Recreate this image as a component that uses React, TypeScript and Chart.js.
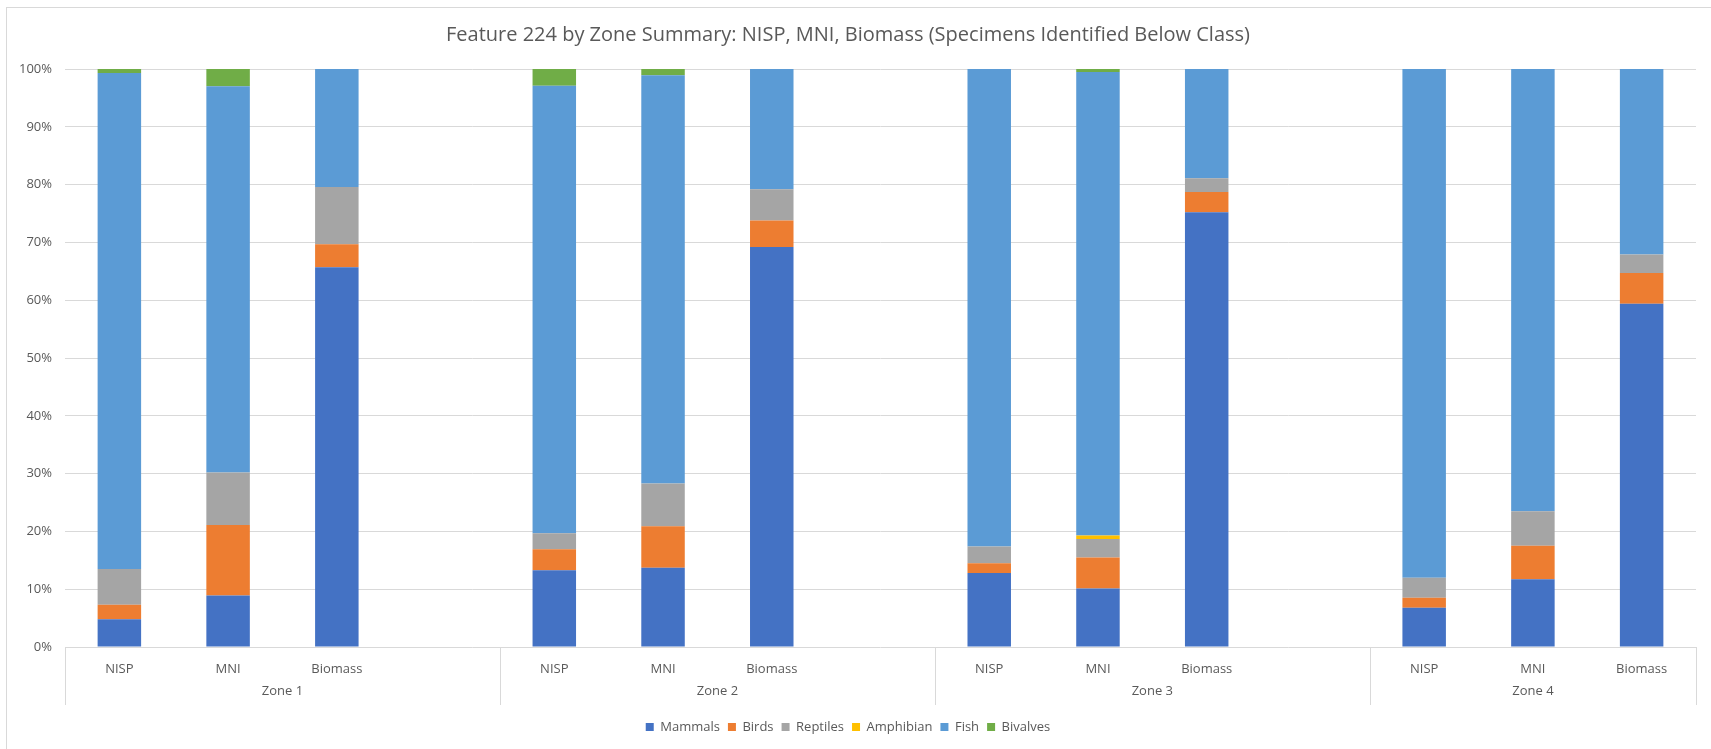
import React, { useEffect, useRef } from "react";
import { Chart, registerables } from "chart.js";

Chart.register(...registerables);

const categories = ["NISP", "MNI", "Biomass", "", "NISP", "MNI", "Biomass", "", "NISP", "MNI", "Biomass", "", "NISP", "MNI", "Biomass"];
const zones = ["Zone 1", "Zone 2", "Zone 3", "Zone 4"];
const zoneStarts = [0, 4, 8, 12];
const zoneSpans = [4, 4, 4, 3];

const mammals = [4.8, 8.9, 65.7, null, 13.3, 13.7, 69.2, null, 12.8, 10.1, 75.2, null, 6.8, 11.7, 59.4];
const birds = [2.5, 12.2, 4.0, null, 3.6, 7.2, 4.6, null, 1.7, 5.4, 3.5, null, 1.7, 5.8, 5.3];
const reptiles = [6.2, 9.1, 9.9, null, 2.8, 7.4, 5.4, null, 2.9, 3.2, 2.4, null, 3.5, 6.0, 3.2];
const amphibian = [0, 0, 0, null, 0, 0, 0, null, 0, 0.6, 0, null, 0, 0, 0];
const fish = [85.8, 66.8, 20.4, null, 77.4, 70.6, 20.8, null, 82.6, 80.2, 18.9, null, 88.0, 76.5, 32.1];
const bivalves = [0.7, 3.0, 0, null, 2.9, 1.1, 0, null, 0, 0.5, 0, null, 0, 0, 0];

const seriesNames = ["Mammals", "Birds", "Reptiles", "Amphibian", "Fish", "Bivalves"];
const seriesColors = ["#4472C4", "#ED7D31", "#A5A5A5", "#FFC000", "#5B9BD5", "#70AD47"];
const yTicks = [0, 10, 20, 30, 40, 50, 60, 70, 80, 90, 100];

const FONT = "'Open Sans', 'Noto Sans', sans-serif";
const TEXT = "#595959";
const GRID = "#D9D9D9";

const zonePlugin = {
  id: "zoneAxis",
  afterDraw(chart: any) {
    const x = chart.scales.x;
    const area = chart.chartArea;
    const ctx = chart.ctx;
    const slot = x.width / categories.length;
    ctx.save();
    ctx.strokeStyle = GRID;
    ctx.lineWidth = 1;
    const bounds = zoneStarts.concat([categories.length]);
    bounds.forEach((b) => {
      const px = Math.round(x.getPixelForValue(b) - slot / 2) + 0.5;
      ctx.beginPath();
      ctx.moveTo(px, area.bottom);
      ctx.lineTo(px, area.bottom + 58);
      ctx.stroke();
    });
    ctx.fillStyle = TEXT;
    ctx.font = "13px " + FONT;
    ctx.textAlign = "center";
    ctx.textBaseline = "middle";
    zones.forEach((z, i) => {
      const a = x.getPixelForValue(zoneStarts[i]) - slot / 2;
      const b = x.getPixelForValue(zoneStarts[i] + zoneSpans[i] - 1) + slot / 2;
      ctx.fillText(z, (a + b) / 2, area.bottom + 44);
    });
    ctx.restore();
  },
};

export default function App() {
  const ref = useRef<HTMLCanvasElement>(null);
  useEffect(() => {
    const raw = [mammals, birds, reptiles, amphibian, fish, bivalves];
    const totals = categories.map((_, i) => raw.reduce((s, arr) => s + (arr[i] ?? 0), 0));
    const datasets = raw.map((arr, k) => ({
      label: seriesNames[k],
      data: arr.map((v, i) => (v == null || totals[i] === 0 ? null : (v / totals[i]) * 100)),
      backgroundColor: seriesColors[k],
      borderWidth: 0,
      barPercentage: 0.4,
      categoryPercentage: 1,
    }));
    const chart = new Chart(ref.current!, {
      type: "bar",
      data: { labels: categories, datasets },
      plugins: [zonePlugin],
      options: {
        animation: false,
        responsive: false,
        layout: { padding: { left: 0, right: 15, top: 0, bottom: 5.5 } },
        plugins: {
          tooltip: { enabled: false },
          title: {
            display: true,
            text: "Feature 224 by Zone Summary: NISP, MNI, Biomass (Specimens Identified Below Class)",
            color: TEXT,
            font: { family: FONT, size: 20, weight: "normal" },
            padding: { top: 23, bottom: 22 },
          },
          legend: {
            position: "bottom",
            labels: {
              color: TEXT,
              font: { family: FONT, size: 13 },
              boxWidth: 8,
              boxHeight: 8,
              padding: 8,
            },
          },
        },
        scales: {
          x: {
            stacked: true,
            grid: { display: false },
            border: { display: false },
            ticks: { color: TEXT, font: { family: FONT, size: 13 }, padding: 6, maxRotation: 0, autoSkip: false },
            afterFit: (s: any) => {
              s.height = 65.5;
            },
          },
          y: {
            stacked: true,
            min: 0,
            max: 100,
            afterBuildTicks: (s: any) => {
              s.ticks = yTicks.map((v) => ({ value: v }));
            },
            grid: { color: GRID, drawTicks: false },
            border: { display: false },
            ticks: {
              color: TEXT,
              font: { family: FONT, size: 13 },
              padding: 13,
              callback: (v: any) => v + "%",
            },
            afterFit: (s: any) => {
              s.width = 65;
            },
          },
        },
      },
    });
    return () => chart.destroy();
  }, []);
  return (
    <div style={{ position: "absolute", left: 0, top: 0, width: 1711, height: 749, background: "#fff", overflow: "hidden" }}>
      <div
        style={{
          position: "absolute",
          left: 6,
          top: 7,
          width: 1800,
          height: 800,
          borderTop: "1px solid " + GRID,
          borderLeft: "1px solid " + GRID,
        }}
      />
      <canvas ref={ref} width={1711} height={749} style={{ position: "absolute", left: 0, top: 0 }} />
    </div>
  );
}
